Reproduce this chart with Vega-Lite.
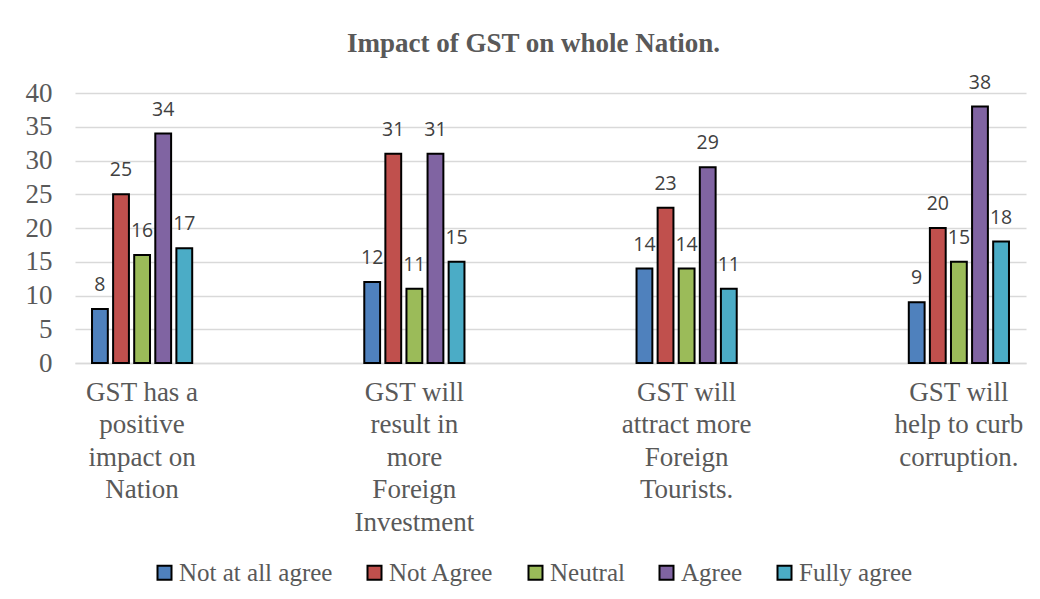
{
  "$schema": "https://vega.github.io/schema/vega-lite/v6.json",
  "width": 951,
  "height": 270,
  "autosize": {"type": "none"},
  "padding": {"left": 75, "top": 93, "right": 14, "bottom": 236},
  "background": "white",
  "title": {
    "text": "Impact of GST on whole Nation.",
    "font": "Liberation Serif",
    "fontSize": 27,
    "fontWeight": "bold",
    "color": "#595959",
    "anchor": "middle",
    "dx": -17,
    "offset": 15
  },
  "data": {
    "values": [
      {"statement": "GST has a positive impact on Nation", "response": "Not at all agree", "count": 8},
      {"statement": "GST has a positive impact on Nation", "response": "Not Agree", "count": 25},
      {"statement": "GST has a positive impact on Nation", "response": "Neutral", "count": 16},
      {"statement": "GST has a positive impact on Nation", "response": "Agree", "count": 34},
      {"statement": "GST has a positive impact on Nation", "response": "Fully agree", "count": 17},
      {"statement": "GST will result in more Foreign Investment", "response": "Not at all agree", "count": 12},
      {"statement": "GST will result in more Foreign Investment", "response": "Not Agree", "count": 31},
      {"statement": "GST will result in more Foreign Investment", "response": "Neutral", "count": 11},
      {"statement": "GST will result in more Foreign Investment", "response": "Agree", "count": 31},
      {"statement": "GST will result in more Foreign Investment", "response": "Fully agree", "count": 15},
      {"statement": "GST will attract more Foreign Tourists.", "response": "Not at all agree", "count": 14},
      {"statement": "GST will attract more Foreign Tourists.", "response": "Not Agree", "count": 23},
      {"statement": "GST will attract more Foreign Tourists.", "response": "Neutral", "count": 14},
      {"statement": "GST will attract more Foreign Tourists.", "response": "Agree", "count": 29},
      {"statement": "GST will attract more Foreign Tourists.", "response": "Fully agree", "count": 11},
      {"statement": "GST will help to curb corruption.", "response": "Not at all agree", "count": 9},
      {"statement": "GST will help to curb corruption.", "response": "Not Agree", "count": 20},
      {"statement": "GST will help to curb corruption.", "response": "Neutral", "count": 15},
      {"statement": "GST will help to curb corruption.", "response": "Agree", "count": 38},
      {"statement": "GST will help to curb corruption.", "response": "Fully agree", "count": 18}
    ]
  },
  "encoding": {
    "x": {
      "field": "statement",
      "type": "nominal",
      "sort": ["GST has a positive impact on Nation", "GST will result in more Foreign Investment", "GST will attract more Foreign Tourists.", "GST will help to curb corruption."],
      "scale": {"paddingInner": 0.632, "paddingOuter": 0.0625},
      "axis": {
        "title": null,
        "labelAngle": 0,
        "ticks": false,
        "domainColor": "#d9d9d9",
        "domainWidth": 1.5,
        "labelFont": "Liberation Serif",
        "labelFontSize": 27,
        "labelColor": "#595959",
        "labelPadding": 16,
        "labelLineHeight": 32.5,
        "labelBaseline": "top",
        "labelExpr": "datum.value == 'GST has a positive impact on Nation' ? ['GST has a','positive','impact on','Nation'] : datum.value == 'GST will result in more Foreign Investment' ? ['GST will','result in','more','Foreign','Investment'] : datum.value == 'GST will attract more Foreign Tourists.' ? ['GST will','attract more','Foreign','Tourists.'] : ['GST will','help to curb','corruption.']"
      }
    },
    "xOffset": {
      "field": "response",
      "type": "nominal",
      "sort": ["Not at all agree", "Not Agree", "Neutral", "Agree", "Fully agree"],
      "scale": {"paddingInner": 0.25, "paddingOuter": 0}
    },
    "y": {
      "field": "count",
      "type": "quantitative",
      "scale": {"domain": [0, 40]},
      "axis": {
        "title": null,
        "values": [0, 5, 10, 15, 20, 25, 30, 35, 40],
        "domain": false,
        "ticks": false,
        "labelFont": "Liberation Serif",
        "labelFontSize": 27,
        "labelColor": "#595959",
        "labelPadding": 23,
        "gridColor": "#d9d9d9",
        "gridWidth": 1.5
      }
    }
  },
  "layer": [
    {
      "mark": {"type": "bar", "stroke": "black", "strokeWidth": 2},
      "encoding": {
        "color": {
          "field": "response",
          "type": "nominal",
          "scale": {
            "domain": ["Not at all agree", "Not Agree", "Neutral", "Agree", "Fully agree"],
            "range": ["#4F81BD", "#C0504D", "#9BBB59", "#8064A2", "#4BACC6"]
          },
          "legend": {
            "title": null,
            "orient": "none",
            "legendX": 77,
            "legendY": 467,
            "direction": "horizontal",
            "symbolType": "square",
            "symbolSize": 196,
            "symbolStrokeColor": "black",
            "symbolStrokeWidth": 2,
            "labelFont": "Liberation Serif",
            "labelFontSize": 25,
            "labelColor": "#595959",
            "labelOffset": 2,
            "columnPadding": 29,
            "labelLimit": 400
          }
        }
      }
    },
    {
      "mark": {"type": "text", "dy": -24, "baseline": "middle", "font": "Open Sans", "fontSize": 19.5, "color": "#404040"},
      "encoding": {"text": {"field": "count", "type": "quantitative"}}
    }
  ],
  "config": {"view": {"stroke": null}}
}
